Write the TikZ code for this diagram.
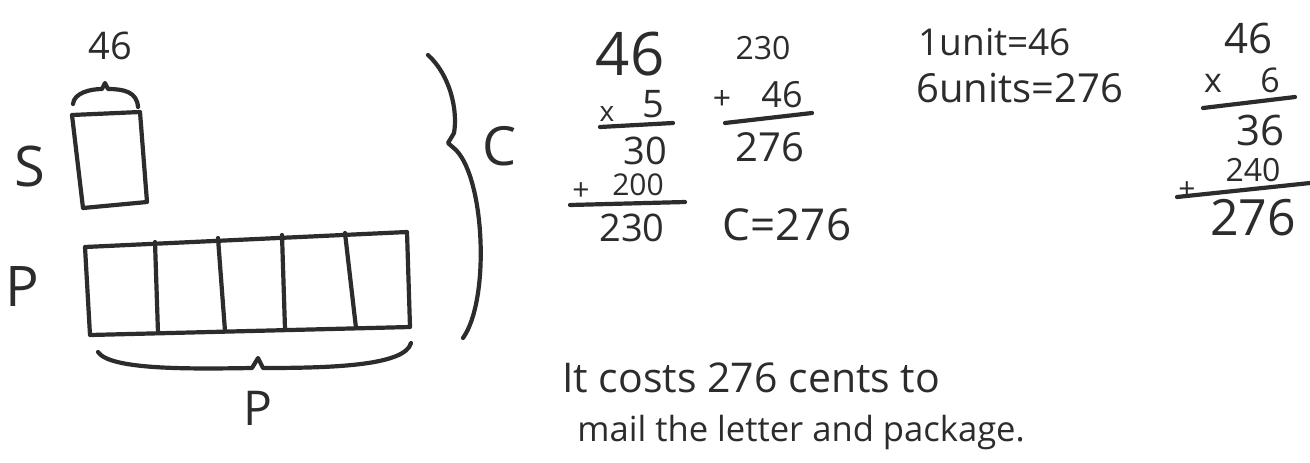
\documentclass[tikz,border=0pt]{standalone}
\usepackage{fontspec}
\setmainfont{Open Sans}
\definecolor{ink}{HTML}{2C2C2C}
\newcommand{\fs}[1]{\fontsize{#1}{#1}\selectfont}
\begin{document}
\begin{tikzpicture}[x=0.5pt,y=-0.5pt,
  pen/.style={draw=ink,line width=2.1pt,line cap=round,line join=round},
  hw/.style={text=ink,inner sep=0pt,font=\fs{#1}},
  hw/.default=20]
\useasboundingbox[fill=white] (0,0) rectangle (1310,462);
% --- bar model ---
\draw[pen] (72,115) -- (140,112) -- (147,202) -- (83,208) -- cycle;
\draw[pen] (85,247) -- (407,232) -- (410,327) -- (90,335) -- cycle;
\draw[pen] (155,242) -- (158,333);
\draw[pen] (218,238) -- (225,331);
\draw[pen] (282,235) -- (285,329);
\draw[pen] (345,233) -- (356,328);
% brace over S
\draw[pen] (73,104) .. controls (74,93) and (90,89) .. (102,89) -- (105,83) -- (108,89) .. controls (124,89) and (137,92) .. (138,107);
% brace under P
\draw[pen] (98,352) .. controls (110,370) and (190,369) .. (252,368) -- (258,358) -- (263,368) .. controls (330,368) and (405,366) .. (411,343);
% big brace C
\draw[pen] (428,55) .. controls (450,75) and (458,110) .. (454,133) -- (448,143) -- (456,150) .. controls (485,180) and (490,300) .. (463,338);
% labels
\node[hw=19] (l46) at (110,46) {46};
\node[hw=28] (lS) at (30,166) {S};
\node[hw=28] (lP) at (22,286) {P};
\node[hw=24] (lPb) at (258,408) {P};
\node[hw=27] (lC) at (500,146) {C};
% --- middle computations ---
\node[hw=30] (m46) at (630,54) {46};
\node[hw=14] (mx) at (607,114) {x};
\node[hw=19] (m5) at (653,104) {5};
\draw[pen] (600,127) -- (673,123);
\node[hw=19] (m30) at (645,151) {30};
\node[hw=15] (mp) at (581,192) {+};
\node[hw=15] (m200) at (638,185) {200};
\draw[pen] (570,205) -- (685,202);
\node[hw=19] (m230b) at (632,228) {230};
\node[hw=16] (m230t) at (763,48) {230};
\node[hw=16] (mp2) at (722,100) {+};
\node[hw=18] (m46b) at (782,95) {46};
\draw[pen] (725,123) -- (812,113);
\node[hw=20] (m276) at (770,147) {276};
\node[hw=22] (mC) at (787,225) {C=276};
% --- right ---
\node[hw=18.5,anchor=west] (u1) at (918,42) {1unit=46};
\node[hw=20,anchor=west] (u6) at (916,88) {6units=276};
\node[hw=21] (r46) at (1248,38) {46};
\node[hw=17] (rx) at (1213,83) {x};
\node[hw=17] (r6) at (1270,80) {6};
\draw[pen] (1203,108) -- (1295,97);
\node[hw=21] (r36) at (1260,130) {36};
\node[hw=15] (rp) at (1187,191) {+};
\node[hw=16] (r240) at (1253,170) {240};
\draw[pen] (1177,197) -- (1310,183);
\node[hw=25] (r276) at (1253,218) {276};
% --- sentence ---
\node[hw=20.5,anchor=west] (s1) at (562,378) {It costs 276 cents to};
\node[hw=17.3,anchor=west] (s2) at (577,432) {mail the letter and package.};
\end{tikzpicture}
\end{document}
